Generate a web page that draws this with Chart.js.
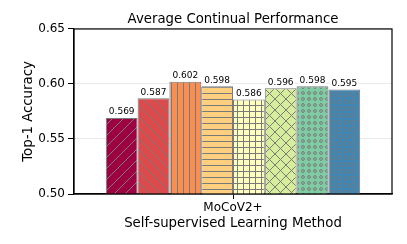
<!DOCTYPE html>
<html>
<head>
<meta charset="utf-8">
<script src="https://cdn.jsdelivr.net/npm/chart.js@4"></script>
<style>
  html, body { margin: 0; padding: 0; background: #fff; }
  #wrap { width: 407px; height: 244px; }
</style>
</head>
<body>
<div id="wrap"><canvas id="chart" width="407" height="244"></canvas></div>
<script>
// data
const categories = ["MoCoV2+"];
const variants = ["V1", "V2", "V3", "V4", "V5", "V6", "V7", "V8"];
const scores = [0.569, 0.587, 0.602, 0.598, 0.586, 0.596, 0.598, 0.595];
const yTicks = [0.50, 0.55, 0.60, 0.65];

// styling
const fills = ["#9e0142", "#dd4a4c", "#f88e52", "#fdcf7e", "#ffffbe", "#d6ee9b", "#7fcba4", "#3a87b9"];
const hatches = ["/", "\\", "|", "-", "+", "x", "o", "O"];
const edge = "#7a7a7a";
const FONT = "'DejaVu Sans', sans-serif";

function hatchPattern(color, kind) {
  const diag = (kind === "/" || kind === "\\" || kind === "x");
  const s = diag ? 11 : (kind === "O" ? 7 : 6);
  const c = document.createElement("canvas");
  c.width = s; c.height = s;
  const g = c.getContext("2d");
  g.fillStyle = color;
  g.fillRect(0, 0, s, s);
  g.strokeStyle = edge;
  g.lineWidth = 1;
  g.beginPath();
  if (kind === "/" || kind === "x") {
    for (const o of [-s, 0, s]) { g.moveTo(o, s); g.lineTo(o + s, 0); }
  }
  if (kind === "\\" || kind === "x") {
    for (const o of [-s, 0, s]) { g.moveTo(o, 0); g.lineTo(o + s, s); }
  }
  if (kind === "|" || kind === "+") { g.moveTo(3.5, 0); g.lineTo(3.5, s); }
  if (kind === "-" || kind === "+") { g.moveTo(0, 3.5); g.lineTo(s, 3.5); }
  g.stroke();
  if (kind === "o" || kind === "O") {
    g.lineWidth = 1;
    g.beginPath();
    g.arc(s / 2, s / 2, kind === "O" ? 2.4 : 1.4, 0, Math.PI * 2);
    g.stroke();
  }
  return g.createPattern(c, "repeat");
}

const datasets = variants.map((name, i) => ({
  label: name,
  data: [scores[i]],
  backgroundColor: hatchPattern(fills[i], hatches[i]),
  borderColor: edge,
  borderWidth: 1,
  categoryPercentage: 0.8,
  barPercentage: 1.0
}));

const extras = {
  id: "extras",
  afterDraw(chart) {
    const ctx = chart.ctx;
    const a = chart.chartArea;
    ctx.save();
    // value labels
    ctx.font = "9px " + FONT;
    ctx.textAlign = "center";
    ctx.textBaseline = "bottom";
    chart.data.datasets.forEach((ds, i) => {
      const bar = chart.getDatasetMeta(i).data[0];
      const txt = ds.data[0].toFixed(3);
      const w = ctx.measureText(txt).width;
      ctx.fillStyle = "#fff";
      ctx.fillRect(bar.x - w / 2 - 1, bar.y - 12, w + 2, 11);
      ctx.fillStyle = "#000";
      ctx.fillText(txt, bar.x, bar.y - 1.5);
    });
    // axes box
    ctx.strokeStyle = "#000";
    ctx.lineWidth = 1.2;
    ctx.strokeRect(a.left, a.top, a.right - a.left, a.bottom - a.top);
    ctx.restore();
  }
};

new Chart(document.getElementById("chart"), {
  type: "bar",
  data: { labels: categories, datasets: datasets },
  options: {
    responsive: false,
    animation: false,
    devicePixelRatio: 1,
    layout: { padding: { right: 15, bottom: 0 } },
    plugins: {
      legend: { display: false },
      tooltip: { enabled: false },
      title: {
        display: true,
        text: "Average Continual Performance",
        fullSize: false,
        color: "#000",
        font: { family: FONT, size: 13.3, weight: "normal", lineHeight: 1.2 },
        padding: { top: 12, bottom: 1 }
      }
    },
    scales: {
      x: {
        grid: { offset: false, drawOnChartArea: false, tickLength: 5, tickColor: "#000" },
        border: { color: "#000", width: 1.2 },
        ticks: { color: "#000", padding: 2, font: { family: FONT, size: 12 } },
        title: {
          display: true,
          text: "Self-supervised Learning Method",
          color: "#000",
          font: { family: FONT, size: 13.3 },
          padding: { top: 0, bottom: 12 }
        },
        afterFit(s) { s.height = 50; }
      },
      y: {
        min: 0.5,
        max: 0.65,
        z: 1,
        afterBuildTicks(s) { s.ticks = yTicks.map(v => ({ value: v })); },
        grid: { color: "rgba(225,225,225,0.7)", tickLength: 6, tickColor: "#000" },
        border: { color: "#000", width: 1.2 },
        ticks: {
          color: "#000",
          padding: 3,
          font: { family: FONT, size: 12 },
          callback: v => Number(v).toFixed(2)
        },
        title: {
          display: true,
          text: "Top-1 Accuracy",
          color: "#000",
          font: { family: FONT, size: 13.3 },
          padding: { top: 21, bottom: 0 }
        },
        afterFit(s) { s.width = 74; }
      }
    }
  },
  plugins: [extras]
});
</script>
</body>
</html>
